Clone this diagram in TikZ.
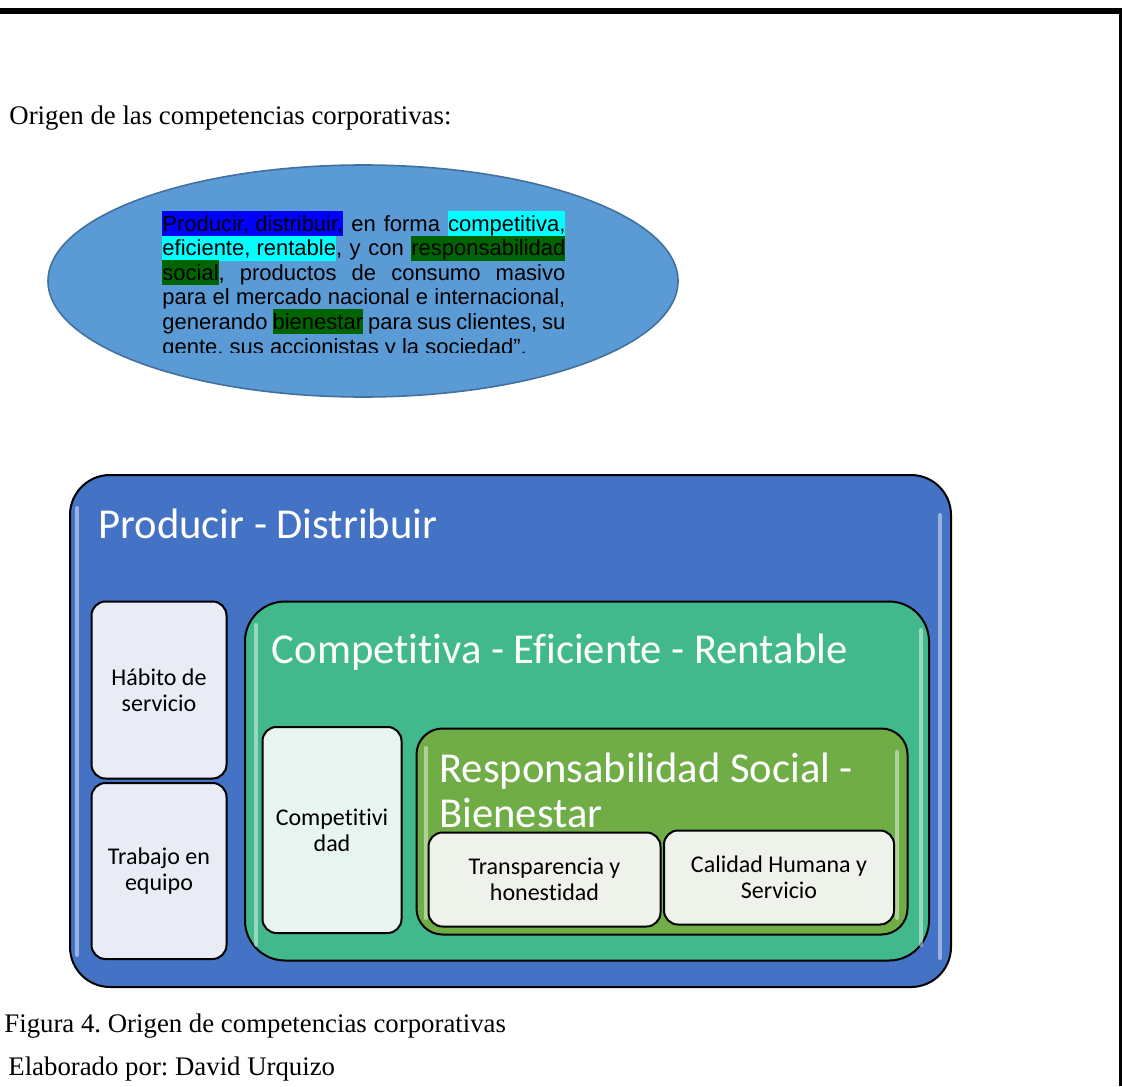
\documentclass[tikz,border=0pt]{standalone}
\usepackage{fontspec}
\setmainfont{Liberation Serif}
\newfontfamily\arialf{Liberation Sans}
\newfontfamily\calib[Ligatures={NoCommon,NoRequired,NoContextual}]{Carlito}
\usetikzlibrary{shapes.geometric}
\definecolor{ellfill}{HTML}{5B9BD5}
\definecolor{elledge}{HTML}{41719C}
\definecolor{hlblue}{HTML}{0000FF}
\definecolor{hlcyan}{HTML}{00FFFF}
\definecolor{hlgreen}{HTML}{006400}
\definecolor{pdblue}{HTML}{4472C4}
\definecolor{cergreen}{RGB}{66,185,140}
\definecolor{rsolive}{HTML}{70AD47}
\definecolor{boxlav}{HTML}{E9EBF5}
\definecolor{boxmint}{HTML}{E8F4EF}
\definecolor{boxsage}{HTML}{EEF2EA}
\newcommand\hlbox[2]{{\fboxsep=0pt\colorbox{#1}{\rule[-2.5pt]{0pt}{12.5pt}#2}}}
\frenchspacing
\begin{document}
\begin{tikzpicture}[x=0.5pt,y=-0.5pt,
  cont/.style={draw=black, line width=1pt, rounded corners=#1, inner sep=0pt, outer sep=0pt, anchor=north west},
  smallbox/.style={draw=black, line width=1pt, rounded corners=7pt, inner sep=0pt, outer sep=0pt, anchor=north west, align=center, text=black, font=\calib\fontsize{12}{13}\selectfont},
  bigtitle/.style={anchor=base west, inner sep=0pt, text=white, font=\calib\fontsize{21.3}{23}\selectfont},
  ptext/.style={anchor=base west, inner sep=0pt, font=\arialf\fontsize{11}{12.3}\selectfont},
  capt/.style={anchor=base west, inner sep=0pt, font=\fontsize{13.4}{15}\selectfont},
  gloss/.style={line width=2pt, line cap=round, draw=white, opacity=0.45}
]
\useasboundingbox (0,0) rectangle (1122,1086);
\fill[white] (0,0) rectangle (1122,1086);
% page frame
\fill[black] (0,8) rectangle (1122,14.5);
\fill[black] (1119,14) rectangle (1121.5,1086);

\node[capt] (head) at (9,124) {Origen de las competencias corporativas:};

% ellipse with mission text
\node[ellipse, draw=elledge, fill=ellfill, line width=0.8pt, minimum width=315pt, minimum height=116pt, inner sep=0pt] (ell) at (363,281) {};
\begin{scope}
\clip (0,0) rectangle (1122,352);
\node[ptext] (m1) at (162,231) {\makebox[201.5pt][s]{\hlbox{hlblue}{Producir, distribuir,} en forma \hlbox{hlcyan}{competitiva,}}};
\node[ptext] (m2) at (162,255.6) {\makebox[201.5pt][s]{\hlbox{hlcyan}{eficiente, rentable}, y con \hlbox{hlgreen}{responsabilidad}}};
\node[ptext] (m3) at (162,280.2) {\makebox[201.5pt][s]{\hlbox{hlgreen}{social}, productos de consumo masivo}};
\node[ptext] (m4) at (162,304.8) {\makebox[201.5pt][s]{para el mercado nacional e internacional,}};
\node[ptext] (m5) at (162,329.4) {\makebox[201.5pt][s]{generando \hlbox{hlgreen}{bienestar} para sus clientes, su}};
\node[ptext] (m6) at (162,354) {gente, sus accionistas y la sociedad”.};
\end{scope}

% outer container
\node[cont=20pt, fill=pdblue, minimum width=440.5pt, minimum height=256pt] (pd) at (70,475) {};
\draw[gloss] (77,508) -- (77,955);
\draw[gloss] (940,515) -- (940,958);
\node[bigtitle] (pdt) at (98,538) {Producir - Distribuir};

\node[smallbox, fill=boxlav, minimum width=67.5pt, minimum height=88.5pt] (hab) at (91.5,601.5) {Hábito de\\servicio};
\node[smallbox, fill=boxlav, minimum width=67.5pt, minimum height=88pt] (tra) at (91.5,783) {Trabajo en\\equipo};

% green container
\node[cont=20pt, fill=cergreen, minimum width=342pt, minimum height=179.5pt] (cer) at (245,601.5) {};
\draw[gloss] (256,625) -- (256,945);
\draw[gloss] (921,630) -- (921,945);
\node[bigtitle] (cert) at (271.5,663) {Competitiva - Eficiente - Rentable};

\node[smallbox, fill=boxmint, minimum width=69.5pt, minimum height=103pt] (comp) at (262.5,727) {Competitivi\\dad};

% olive container
\node[cont=13pt, fill=rsolive, minimum width=245.5pt, minimum height=103pt] (rs) at (416.5,728.5) {};
\draw[gloss] (425.5,748) -- (425.5,918);
\draw[gloss] (897,752) -- (897,918);
\node[bigtitle, align=left, font=\calib\fontsize{21.3}{22.5}\selectfont, anchor=north west] (rst) at (439,753) {Responsabilidad Social -\\Bienestar};

\node[smallbox, fill=boxsage, minimum width=116pt, minimum height=47pt] (tyh) at (428.5,832.5) {Transparencia y\\honestidad};
\node[smallbox, fill=boxsage, minimum width=115pt, minimum height=47pt] (chs) at (664,830.5) {Calidad Humana y\\Servicio};

\node[capt] (fig) at (4,1032) {Figura 4. Origen de competencias corporativas};
\node[capt] (elab) at (8,1075) {Elaborado por: David Urquizo};
\end{tikzpicture}
\end{document}
